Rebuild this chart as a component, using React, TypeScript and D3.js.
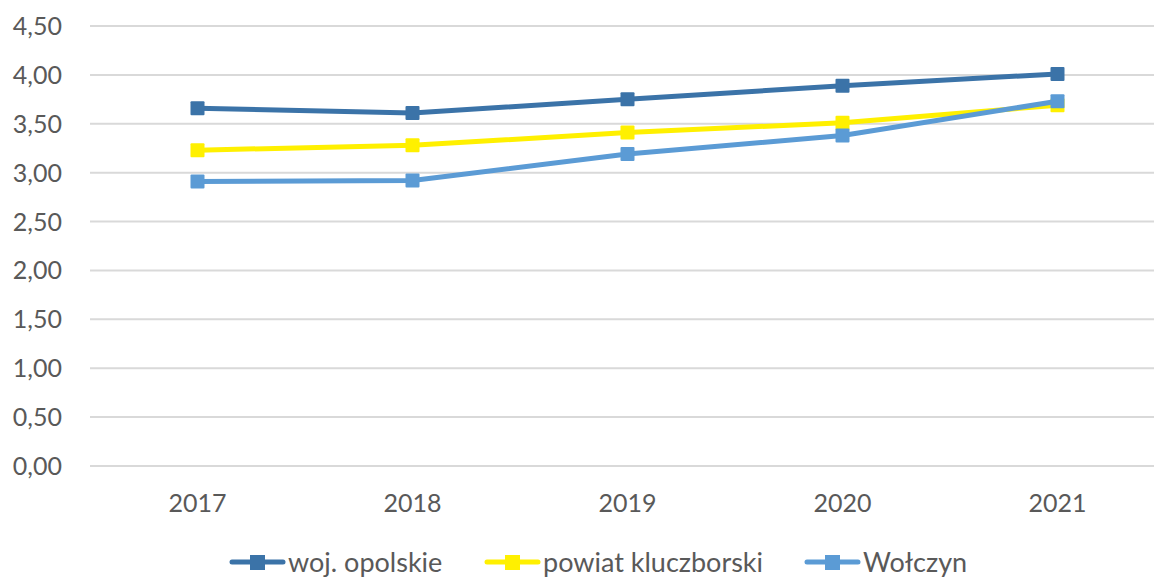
import React, { useEffect, useRef } from 'react'
import * as d3 from 'd3'

const years = ['2017', '2018', '2019', '2020', '2021']
const seriesNames = ['woj. opolskie', 'powiat kluczborski', 'Wołczyn']
const wojOpolskie = [3.66, 3.61, 3.75, 3.89, 4.01]
const powiatKluczborski = [3.23, 3.28, 3.41, 3.51, 3.69]
const wolczyn = [2.91, 2.92, 3.19, 3.38, 3.73]
const yTicks = [0, 0.5, 1, 1.5, 2, 2.5, 3, 3.5, 4, 4.5]
const colors = ['#3b73a8', '#fff000', '#5b9bd5']

const W = 1154
const H = 577
const FONT = 'Lato, "Open Sans", sans-serif'

function drawChart(el: SVGSVGElement) {
  const svg = d3.select(el)
  svg.selectAll('*').remove()

  const x = d3.scaleBand().domain(years).range([90, 1165])
  const y = d3.scaleLinear().domain([0, 4.5]).range([466, 26])
  const fmt = (v: number) => d3.format('.2f')(v).replace('.', ',')

  // grid
  svg.append('g').selectAll('line').data(yTicks).join('line')
    .attr('x1', 90).attr('x2', 1165)
    .attr('y1', d => y(d)).attr('y2', d => y(d))
    .attr('stroke', '#d9d9d9').attr('stroke-width', 2)

  // y labels
  svg.append('g').selectAll('text').data(yTicks).join('text')
    .attr('x', 62).attr('y', d => y(d)).attr('dy', '0.36em')
    .attr('text-anchor', 'end')
    .attr('font-family', FONT).attr('font-size', 25).attr('fill', '#595959')
    .text(d => fmt(d))

  // x labels
  svg.append('g').selectAll('text').data(years).join('text')
    .attr('x', d => x(d)! + x.bandwidth() / 2).attr('y', 512)
    .attr('text-anchor', 'middle')
    .attr('font-family', FONT).attr('font-size', 25).attr('fill', '#595959')
    .text(d => d)

  const all = [wojOpolskie, powiatKluczborski, wolczyn]
  const line = d3.line<number>()
    .x((_, i) => x(years[i])! + x.bandwidth() / 2)
    .y(d => y(d))

  all.forEach((vals, s) => {
    const g = svg.append('g')
    g.append('path').datum(vals)
      .attr('d', line).attr('fill', 'none')
      .attr('stroke', colors[s]).attr('stroke-width', 5)
      .attr('stroke-linejoin', 'round').attr('stroke-linecap', 'round')
    g.selectAll('rect').data(vals).join('rect')
      .attr('x', (_, i) => x(years[i])! + x.bandwidth() / 2 - 7)
      .attr('y', d => y(d) - 7)
      .attr('width', 14).attr('height', 14).attr('rx', 1)
      .attr('fill', colors[s])
  })

  // legend
  const legendX = [230, 485, 805]
  const lg = svg.append('g')
  seriesNames.forEach((name, s) => {
    const lx = legendX[s]
    lg.append('line')
      .attr('x1', lx + 2).attr('x2', lx + 53).attr('y1', 562).attr('y2', 562)
      .attr('stroke', colors[s]).attr('stroke-width', 5).attr('stroke-linecap', 'round')
    lg.append('rect')
      .attr('x', lx + 20).attr('y', 555).attr('width', 15).attr('height', 15)
      .attr('fill', colors[s])
    lg.append('text')
      .attr('x', lx + 58).attr('y', 572)
      .attr('font-family', FONT).attr('font-size', 27).attr('fill', '#595959')
      .text(name)
  })
}

export default function App() {
  const ref = useRef<SVGSVGElement>(null)
  useEffect(() => {
    if (ref.current) drawChart(ref.current)
  })
  return (
    <div style={{ position: 'fixed', left: 0, top: 0, width: W, height: H, background: '#fff' }}>
      <svg ref={ref} width={W} height={H} style={{ display: 'block' }}></svg>
    </div>
  )
}
